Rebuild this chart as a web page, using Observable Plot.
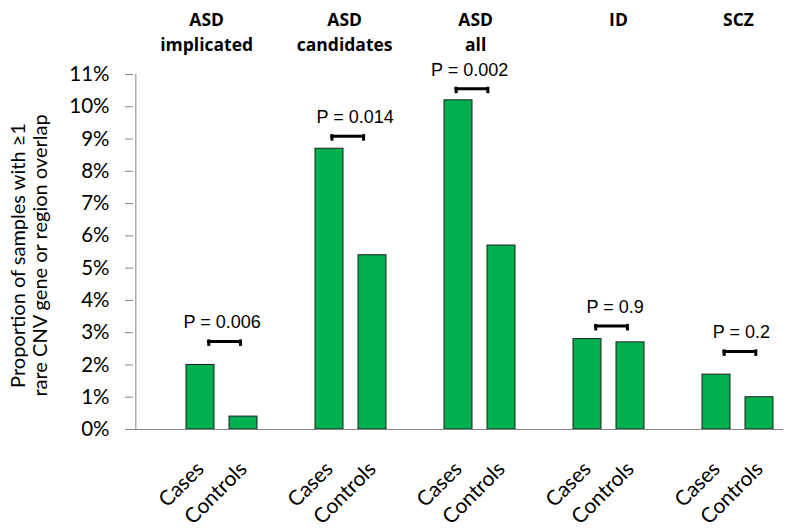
<!DOCTYPE html>
<html><head><meta charset="utf-8">
<script src="https://cdn.jsdelivr.net/npm/d3@7"></script>
<script src="https://cdn.jsdelivr.net/npm/@observablehq/plot@0.6"></script>
<style>body{margin:0;background:#fff}</style>
</head><body><div id="chart"></div>
<script>
// ---- data ----
const groups = ["ASD implicated", "ASD candidates", "ASD all", "ID", "SCZ"];
const conditions = ["Cases", "Controls"];
const casesPct = [2.0, 8.7, 10.2, 2.8, 1.7];
const controlsPct = [0.4, 5.4, 5.7, 2.7, 1.0];
const pValues = ["0.006", "0.014", "0.002", "0.9", "0.2"];
const bracketAt = [2.73, 9.09, 10.56, 3.21, 2.42];
const yTicks = [0, 1, 2, 3, 4, 5, 6, 7, 8, 9, 10, 11];
const yTitle = "Proportion of samples with \u22651\nrare CNV gene or region overlap";

// ---- layout ----
const W = 791, H = 532, mL = 133, mR = 8, mT = 74, mB = 103;
const step = (W - mL - mR) / (groups.length * 3);
const pxPerUnit = (H - mT - mB) / 11;
const key = (g, c) => g + "|" + c;
const domain = groups.flatMap(g => [key(g, "gap"), ...conditions.map(c => key(g, c))]);
const bars = groups.flatMap((g, i) => [
  {slot: key(g, "Cases"), value: casesPct[i]},
  {slot: key(g, "Controls"), value: controlsPct[i]}
]);
const titleNudge = [-15.5, -6.5, -4.5, 9.3, 0.3];
const pNudge = [0, 4, -10.5, 6, 3.3];
const bracketNudge = [2.6, -3.2, -8, 2.6, 2];
const halfBracket = 16;
const drop = 3.5 / pxPerUnit;

const annotMarks = groups.flatMap((g, i) => {
  const a = [{cs: key(g, "Cases"), ct: key(g, "Controls"), level: bracketAt[i],
              p: "P = " + pValues[i], title: g.replace(" ", "\n")}];
  const n = bracketNudge[i];
  return [
    Plot.ruleY(a, {x1: "cs", x2: "ct", y: "level", stroke: "#000", strokeWidth: 3,
      insetLeft: step * 0.33 + step / 2 - halfBracket - 1.5 + n,
      insetRight: step * 0.33 + step / 2 - halfBracket - 1.5 - n}),
    Plot.ruleX(a, {x: "cs", y1: "level", y2: d => d.level - drop, stroke: "#000", strokeWidth: 3,
      strokeLinecap: "square", dx: step / 2 - halfBracket + n}),
    Plot.ruleX(a, {x: "ct", y1: "level", y2: d => d.level - drop, stroke: "#000", strokeWidth: 3,
      strokeLinecap: "square", dx: -step / 2 + halfBracket + n}),
    Plot.text(a, {x: "cs", y: "level", text: "p", dx: step / 2 + pNudge[i], dy: -13, lineAnchor: "bottom",
      fontFamily: "Liberation Sans", fontSize: 18, fill: "#000"}),
    Plot.text(a, {x: "cs", frameAnchor: "top", text: "title", dx: step / 2 + titleNudge[i], dy: -67,
      lineAnchor: "top", lineHeight: 1.47, fontFamily: "Open Sans", fontWeight: "bold", fontSize: 17.5, fill: "#000"})
  ];
});

const chart = Plot.plot({
  width: W, height: H,
  marginLeft: mL, marginRight: mR, marginTop: mT, marginBottom: mB,
  style: {fontFamily: "Lato", background: "#fff", overflow: "visible"},
  x: {type: "band", domain, paddingInner: 0.34, paddingOuter: 0.17, label: null},
  y: {domain: [0, 11], label: null},
  marks: [
    Plot.barY(bars, {x: "slot", y: "value", fill: "#00B050", stroke: "#1e1e1e", strokeWidth: 1}),
    Plot.ruleY([0], {stroke: "#868686", strokeWidth: 1}),
    Plot.ruleX([domain[0]], {dx: -step / 2, stroke: "#868686", strokeWidth: 1}),
    Plot.axisY({ticks: yTicks, tickFormat: d => d + "%", tickSize: 8, tickPadding: 16,
      fontSize: 20.5, fontFamily: "Lato", stroke: "#868686", fill: "#000", label: null}),
    Plot.axisX({ticks: domain.filter(d => !d.endsWith("|gap")), tickFormat: d => d.split("|")[1],
      tickSize: 0, tickPadding: 36, tickRotate: -45, textAnchor: "end", lineAnchor: "middle",
      fontSize: 21, fontFamily: "Lato", fill: "#000", label: null}),
    Plot.text([yTitle], {frameAnchor: "left", text: d => d, rotate: -90, dx: -105, dy: 3.5,
      textAnchor: "middle", lineAnchor: "middle", lineHeight: 1.1, fontSize: 20, fontFamily: "Lato", fill: "#000"}),
    ...annotMarks
  ]
});
document.getElementById("chart").appendChild(chart);
</script>
</body></html>
